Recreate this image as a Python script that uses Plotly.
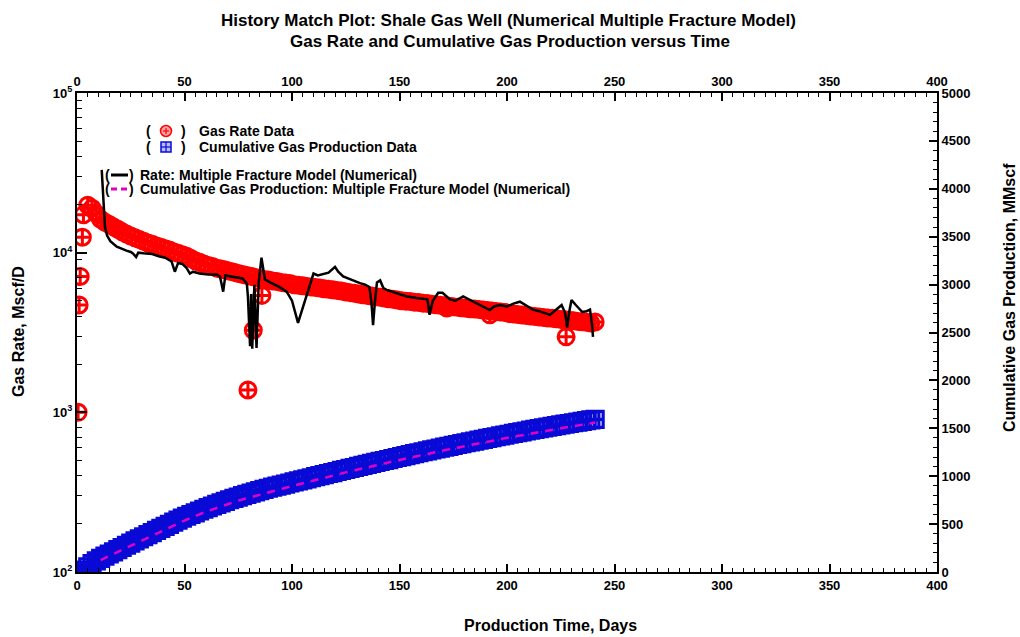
import plotly.graph_objects as go

# ---------------- data ----------------
# Gas rate data, Mscf/D
rate_days = [0.5, 1, 1.5, 2.5] + list(range(3, 242, 2))
rate_vals = [1000, 4700, 7100, 12500,
             17300, 19800, 19000, 17500, 16200, 15500, 15000, 14500, 14000, 13500,
             13100, 12700, 12400, 12100, 11800, 11500, 11300, 11000, 10800, 10600,
             10400, 10100, 9900, 9700, 9500, 9200, 8900, 8700, 8500, 8300,
             8200, 8000, 7900, 7800, 7650, 7550, 7400, 7300, 7200, 7100,
             7000, 6900, 6800, 6750, 6650, 6600, 6500, 6450, 6400, 6300,
             6250, 6200, 6150, 6100, 6050, 6000, 5950, 5900, 5850, 5800,
             5750, 5680, 5620, 5560, 5500, 5450, 5400, 5350, 5300, 5250,
             5200, 5150, 5100, 5050, 5000, 4970, 4940, 4900, 4870, 4830,
             4800, 4760, 4720, 4680, 4650, 4610, 4580, 4550, 4520, 4490,
             4460, 4430, 4400, 4370, 4340, 4310, 4280, 4250, 4220, 4150,
             4130, 4100, 4070, 4040, 4010, 3980, 3960, 3930, 3900, 3880,
             3850, 3820, 3800, 3770, 3740, 3710, 3690, 3660, 3630, 3680]
rate_outlier_days = [79.5, 82, 86, 172, 192, 227.5]
rate_outlier_vals = [1380, 3270, 5400, 4500, 4080, 2970]

# Cumulative gas production data, MMscf
cum_days = [0.5, 1, 1.5, 2.5] + list(range(3, 242, 2))
cum_vals = [0, 3, 6, 12,
            20, 55, 88, 116, 142, 165, 188, 211, 234, 256,
            279, 301, 324, 346, 368, 390, 412, 434, 456, 477,
            498, 520, 541, 562, 582, 600, 618, 637, 655, 673,
            689, 705, 722, 738, 754, 768, 782, 797, 811, 824,
            837, 849, 862, 874, 885, 896, 907, 918, 929, 940,
            951, 962, 973, 984, 995, 1006, 1017, 1028, 1038, 1049,
            1060, 1070, 1081, 1091, 1102, 1112, 1123, 1133, 1144, 1154,
            1164, 1174, 1185, 1195, 1205, 1215, 1225, 1235, 1245, 1255,
            1264, 1274, 1284, 1293, 1303, 1312, 1321, 1331, 1340, 1349,
            1358, 1367, 1376, 1385, 1394, 1403, 1412, 1420, 1429, 1438,
            1446, 1455, 1463, 1472, 1480, 1488, 1496, 1504, 1512, 1520,
            1528, 1535, 1543, 1550, 1558, 1565, 1572, 1580, 1587, 1594]

# Model: rate (numerical multiple fracture model), Mscf/D
model_rate_days = [11.5, 12.0, 12.5, 13.0, 14.0, 15.5, 18.5, 21, 23, 25, 26, 27.5, 28.5, 31, 35,
                   38, 41, 44, 45.5, 47, 49, 51, 52.5, 54, 57, 61, 65, 66.5, 68, 69,
                   72, 75, 77, 79, 79.5, 80.5, 81, 81.5, 82.5, 83.5, 84.5, 85.8, 87.4, 90, 94,
                   97.5, 100, 102.8, 104.5, 106.8, 108.5, 110, 112, 114, 117, 120, 121.5, 123.8, 127, 131.6,
                   134, 136, 137, 137.7, 138.5, 139.5, 141, 142.5, 144, 148, 153, 158, 163, 164, 165.5,
                   168, 170, 173.5, 176, 179.6, 183, 186, 189, 192, 194, 196.7, 200, 203, 206, 209,
                   212, 215, 218, 220, 222, 225.4, 227, 228, 229, 230, 232, 235, 237, 238.6, 239.5, 240]
model_rate_vals = [33000, 24000, 17000, 14500, 12800, 11800, 10900, 10500, 10300, 10100, 9900, 9400, 10000, 9900, 9800,
                   9500, 9300, 8800, 7600, 8600, 8500, 8000, 7400, 7600, 7400, 7300, 7300, 7100, 5700, 7200,
                   7100, 7000, 6900, 6400, 5300, 2600, 5500, 2500, 6300, 2530, 6500, 9300, 6800, 6500, 6100,
                   5700, 5000, 3630, 4300, 5400, 6600, 7400, 7200, 7350, 7500, 8150, 7600, 7100, 6800, 6450,
                   6300, 6100, 4800, 3520, 4800, 6500, 6700, 6000, 5850, 5600, 5330, 5200, 5100, 4080, 5000,
                   5600, 5600, 5100, 5000, 5330, 5050, 4850, 4600, 4370, 4600, 4700, 4600, 4800, 4930, 4650,
                   4400, 4300, 4150, 4080, 4300, 4700, 4200, 3400, 4300, 5050, 4700, 4250, 4300, 4400, 3600, 2970]

# Model: cumulative gas production, MMscf
model_cum_days = [11, 20, 30, 40, 50, 60, 75, 90, 100, 125, 150, 175, 200, 225, 241]
model_cum_vals = [125, 218, 325, 432, 537, 630, 745, 840, 897, 1040, 1170, 1290, 1400, 1500, 1560]

x_ticks = [0, 50, 100, 150, 200, 250, 300, 350, 400]
y_ticks = [100, 1000, 10000, 100000]
y_ticktext = ["10<sup>2</sup>", "10<sup>3</sup>", "10<sup>4</sup>", "10<sup>5</sup>"]
y2_ticks = [0, 500, 1000, 1500, 2000, 2500, 3000, 3500, 4000, 4500, 5000]

# ---------------- figure ----------------
F = "Liberation Sans"
BOLD = dict(family=F, color="black", weight="bold")
W, H = 1020, 637
L, R, T, B = 77, 83, 93, 65
RED = "rgb(255,0,0)"
BLUE = "rgb(10,10,215)"
MAG = "rgb(225,0,200)"


def px(x):
    return (x - L) / (W - L - R)


def py(y):
    return (H - B - y) / (H - T - B)


fig = go.Figure()
fig.add_trace(go.Scatter(x=rate_days + rate_outlier_days, y=rate_vals + rate_outlier_vals,
                         mode="markers", name="Gas Rate Data",
                         marker=dict(symbol="circle-cross-open", size=16, color=RED,
                                     line=dict(width=3)),
                         xaxis="x", yaxis="y"))
fig.add_trace(go.Scatter(x=model_rate_days, y=model_rate_vals, mode="lines",
                         name="Rate: Multiple Fracture Model (Numerical)",
                         line=dict(color="black", width=2.5), xaxis="x", yaxis="y"))
fig.add_trace(go.Scatter(x=cum_days, y=cum_vals, mode="markers", name="Cumulative Gas Production Data",
                         marker=dict(symbol="square-cross-open", size=16, color=BLUE,
                                     line=dict(width=3.2)),
                         xaxis="x2", yaxis="y2"))
fig.add_trace(go.Scatter(x=model_cum_days, y=model_cum_vals, mode="lines",
                         name="Cumulative Gas Production: Multiple Fracture Model (Numerical)",
                         line=dict(color=MAG, width=2.5, dash="8px,7px"),
                         xaxis="x2", yaxis="y2"))

xcommon = dict(range=[0, 400], tickvals=x_ticks, ticks="inside", ticklen=8, tickwidth=1.5,
               tickcolor="black", showline=True, linewidth=2, linecolor="black",
               showgrid=False, zeroline=False, tickfont=dict(size=13, **BOLD),
               minor=dict(ticks="inside", ticklen=4, dtick=5, tick0=0, tickwidth=1,
                          tickcolor="black", showgrid=False))

fig.update_layout(
    width=W, height=H, margin=dict(l=L, r=R, t=T, b=B),
    paper_bgcolor="white", plot_bgcolor="white", showlegend=False,
    xaxis=dict(anchor="y", side="bottom", **xcommon),
    xaxis2=dict(anchor="y2", side="top", overlaying="x", **xcommon),
    yaxis=dict(type="log", range=[2, 5], tickvals=y_ticks, ticktext=y_ticktext, ticks="inside",
               ticklen=10, tickwidth=1.5, tickcolor="black", showline=True, linewidth=2,
               linecolor="black", showgrid=False, zeroline=False, anchor="x",
               tickfont=dict(size=13, **BOLD),
               minor=dict(ticks="inside", ticklen=5, dtick="D1", tickwidth=1, tickcolor="black",
                          showgrid=False)),
    yaxis2=dict(range=[0, 5000], tickvals=y2_ticks, ticks="inside", ticklen=8, tickwidth=1.5,
                tickcolor="black", showline=True, linewidth=2, linecolor="black",
                showgrid=False, zeroline=False, side="right", overlaying="y", anchor="x2",
                tickfont=dict(size=13, **BOLD),
                minor=dict(ticks="inside", ticklen=4, dtick=100, tickwidth=1,
                           tickcolor="black", showgrid=False)),
)


def note(text, x, y, size, anchor="center", angle=0):
    return dict(text=text, x=px(x), y=py(y), xref="paper", yref="paper", showarrow=False,
                font=dict(size=size, **BOLD), xanchor=anchor, yanchor="middle", textangle=angle)


ann = []
# chart title (two lines)
ann.append(note("History Match Plot: Shale Gas Well (Numerical Multiple Fracture Model)", 508, 20, 17))
ann.append(note("Gas Rate and Cumulative Gas Production versus Time", 510, 42, 17))
# axis titles
ann.append(note("Production Time, Days", 550, 625, 16))
ann.append(note("Gas Rate, Mscf/D", 18, 332, 16, angle=-90))
ann.append(note("Cumulative Gas Production, MMscf", 1009, 298, 16, angle=-90))

# legend block (text + parentheses)
leg_rows = [(131, 148, 183, 197, "Gas Rate Data"),
            (147, 148, 183, 197, "Cumulative Gas Production Data"),
            (175, 107, 131, 138, "Rate: Multiple Fracture Model (Numerical)"),
            (189, 107, 131, 138, "Cumulative Gas Production: Multiple Fracture Model (Numerical)")]
for yy, xo, xc, xt, txt in leg_rows:
    ann.append(note("(", xo, yy, 14))
    ann.append(note(")", xc, yy, 14))
    ann.append(note(txt, xt, yy, 14, anchor="left"))
fig.update_layout(annotations=ann)

shapes = []
# red circle with plus
cx, cy, r = 166, 131, 5.5
shapes.append(dict(type="circle", xref="paper", yref="paper", x0=px(cx - r), x1=px(cx + r),
                   y0=py(cy + r), y1=py(cy - r), line=dict(color=RED, width=1.5),
                   fillcolor="rgba(255,90,90,0.55)"))
shapes.append(dict(type="line", xref="paper", yref="paper", x0=px(cx - 3), x1=px(cx + 3),
                   y0=py(cy), y1=py(cy), line=dict(color=RED, width=1.2)))
shapes.append(dict(type="line", xref="paper", yref="paper", x0=px(cx), x1=px(cx),
                   y0=py(cy - 3), y1=py(cy + 3), line=dict(color=RED, width=1.2)))
# blue square with cross
cx, cy, r = 166, 147, 5
shapes.append(dict(type="rect", xref="paper", yref="paper", x0=px(cx - r), x1=px(cx + r),
                   y0=py(cy + r), y1=py(cy - r), line=dict(color=BLUE, width=1.5),
                   fillcolor="rgba(120,120,255,0.5)"))
shapes.append(dict(type="line", xref="paper", yref="paper", x0=px(cx - r), x1=px(cx + r),
                   y0=py(cy), y1=py(cy), line=dict(color=BLUE, width=1.2)))
shapes.append(dict(type="line", xref="paper", yref="paper", x0=px(cx), x1=px(cx),
                   y0=py(cy - r), y1=py(cy + r), line=dict(color=BLUE, width=1.2)))
# line samples
shapes.append(dict(type="line", xref="paper", yref="paper", x0=px(111), x1=px(128),
                   y0=py(175), y1=py(175), line=dict(color="black", width=3)))
shapes.append(dict(type="line", xref="paper", yref="paper", x0=px(111), x1=px(128),
                   y0=py(189), y1=py(189), line=dict(color=MAG, width=3, dash="6px,4px")))
fig.update_layout(shapes=shapes)

fig.write_html("out.html")
